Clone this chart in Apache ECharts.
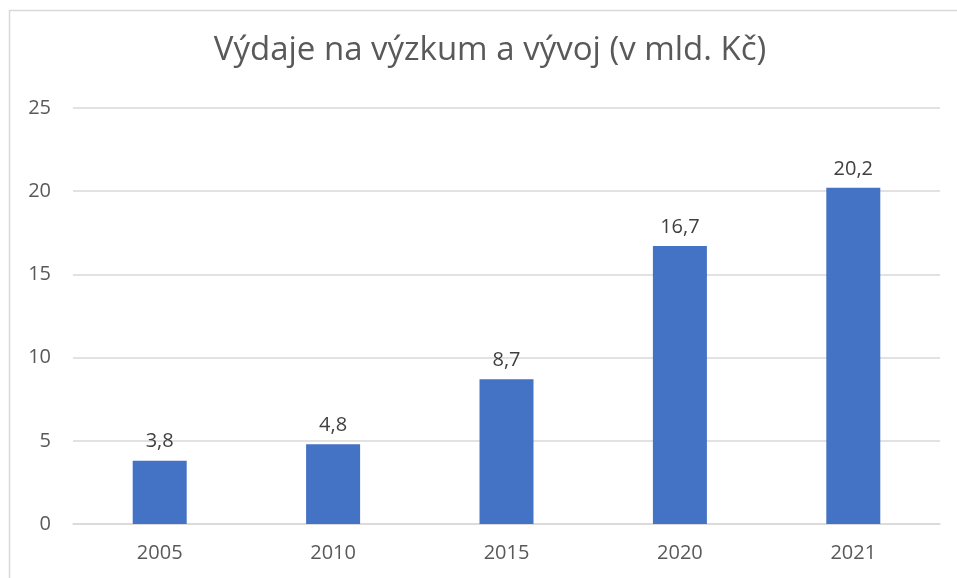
<!DOCTYPE html>
<html>
<head>
<meta charset="utf-8">
<script src="https://cdn.jsdelivr.net/npm/echarts@6/dist/echarts.min.js"></script>
<style>
  html, body { margin: 0; padding: 0; background: #fff; }
  #chart { width: 957px; height: 578px; }
</style>
</head>
<body>
<div id="chart"></div>
<script>
var years = ['2005', '2010', '2015', '2020', '2021'];
var spending = [3.8, 4.8, 8.7, 16.7, 20.2];
var yTicks = [0, 5, 10, 15, 20, 25];

var chart = echarts.init(document.getElementById('chart'));

var font = '"Open Sans", "Noto Sans", sans-serif';

chart.setOption({
    animation: false,
    textStyle: { fontFamily: font },
    title: {
        text: 'Výdaje na výzkum a vývoj (v mld. Kč)',
        left: 485,
        textAlign: 'center',
        top: 29,
        textStyle: { fontSize: 33, fontWeight: 'normal', color: '#595959', fontFamily: font }
    },
    graphic: [{
        type: 'rect',
        shape: { x: 9.5, y: 10.5, width: 960, height: 600 },
        style: { fill: 'none', stroke: '#d9d9d9', lineWidth: 1.5 },
        silent: true
    }],
    grid: { left: 73, right: 17, top: 108, bottom: 54 },
    xAxis: {
        type: 'category',
        data: years,
        axisLine: { show: true, lineStyle: { color: '#d9d9d9', width: 1.5 } },
        axisTick: { show: false },
        axisLabel: { fontSize: 20, color: '#595959', margin: 19, fontFamily: font }
    },
    yAxis: {
        type: 'value',
        min: yTicks[0],
        max: yTicks[yTicks.length - 1],
        interval: 5,
        axisLine: { show: false },
        axisTick: { show: false },
        splitLine: { lineStyle: { color: '#d9d9d9', width: 1.5 } },
        axisLabel: { fontSize: 20, color: '#595959', margin: 22, fontFamily: font }
    },
    series: [{
        type: 'bar',
        data: spending,
        barWidth: 54,
        itemStyle: { color: '#4472c4' },
        label: {
            show: true,
            position: 'top',
            distance: 9,
            fontSize: 20,
            color: '#404040',
            fontFamily: font,
            formatter: function (p) { return String(p.value.toFixed(1)).replace('.', ','); }
        }
    }]
});
</script>
</body>
</html>
